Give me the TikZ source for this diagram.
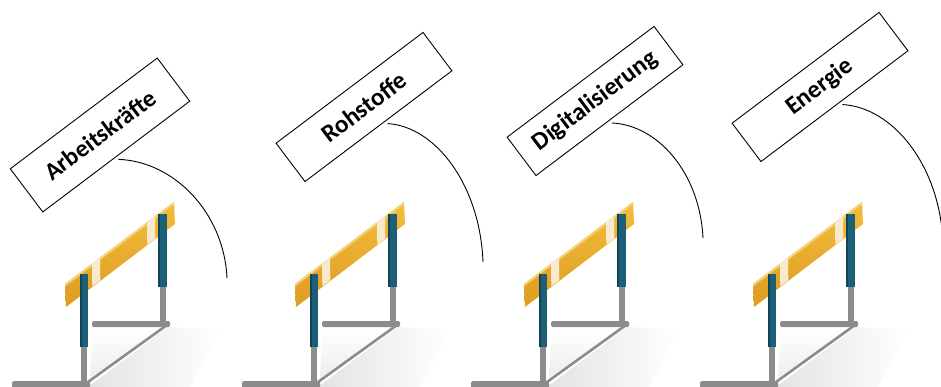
\documentclass[tikz,border=0pt]{standalone}
\usepackage{fontspec}
\setmainfont{Carlito}
\usetikzlibrary{calc}

\definecolor{postteal}{HTML}{1C5F78}
\definecolor{steelgray}{HTML}{8C8C8C}
\definecolor{barlight}{HTML}{F2BE3A}
\definecolor{bardark}{HTML}{DE9C24}
\definecolor{stripecream}{HTML}{F7EAD0}

\tikzset{
  labelbox/.style={draw=black, line width=0.9pt, fill=white, rotate=37,
    minimum width=184pt, minimum height=48pt, inner sep=0pt, outer sep=3.5pt,
    font=\bfseries\fontsize{25}{25}\selectfont},
  bend line/.style={draw=black, line width=0.9pt},
  steel/.style={fill=steelgray},
  brace/.style={draw=steelgray, line width=2.6pt},
  hurdle/.pic={
    % soft ground shadow
    \shade[left color=gray!22, right color=white]
      (88,387) -- (168,327) -- (220,330) -- (190,387) -- cycle;
    \shade[top color=white, bottom color=gray!14]
      (93,327) -- (166,327) -- (90,378) -- cycle;
    % rear foot and diagonal brace
    \fill[steel, rounded corners=1.5pt] (92,321) rectangle (170,327);
    \draw[brace] (88,382) -- (167,325);
    % lower (grey) parts of the posts
    \fill[steel] (159.5,285) rectangle (166,324);
    \fill[steel] (81,345) rectangle (87,387);
    % front foot
    \fill[steel, rounded corners=1.5pt] (12,381) rectangle (90,390);
    % cross bar with its two light bands
    \shade[top color=barlight, bottom color=bardark]
      (65,284) -- (174,202) -- (175,224) -- (66,307) -- cycle;
    \fill[barlight!70!white] (65,284) -- (174,202) -- (174,204.5) -- (65,286.5) -- cycle;
    \fill[stripecream] (92,263.8) -- (100,257.8) -- (100.3,280.3) -- (92.3,286.3) -- cycle;
    \fill[stripecream] (147,222.5) -- (155,216.5) -- (155.3,238.5) -- (147.3,244.5) -- cycle;
    % upper (teal) parts of the posts
    \fill[postteal] (80,274) rectangle (87.5,347);
    \fill[postteal] (158,214) rectangle (167,287);
    \fill[postteal!70!black] (80,274) rectangle (81.5,347);
    \fill[postteal!70!black] (158,214) rectangle (159.5,287);
  }
}

\begin{document}
\begin{tikzpicture}[x=1pt, y=-1pt]
  \useasboundingbox (0,0) rectangle (941,387);
  \clip (0,0) rectangle (941,387);
  \fill[white] (0,0) rectangle (941,387);

  % hurdles
  \pic at (0,0) {hurdle};
  \pic at (230,0) {hurdle};
  \pic at (459,0) {hurdle};
  \pic at (688,0) {hurdle};

  % labels
  \node[labelbox, minimum height=54pt, font=\bfseries\fontsize{24.5}{24.5}\selectfont]
    (b1) at (100,135) {Arbeitskräfte};
  \node[labelbox] (b2) at (364,107) {Rohstoffe};
  \node[labelbox] (b3) at (595,101) {Digitalisierung};
  \node[labelbox] (b4) at (820,87) {Energie};

  % end points of the jump curves
  \coordinate (e1) at (227,278);
  \coordinate (e2) at (483,262);
  \coordinate (e3) at (703,238);
  \coordinate (e4) at (943,243);

  % jump curves
  \draw[bend line] (b1.south) .. controls +(56,2) and +(-3,-65) .. (e1);
  \draw[bend line] (b2.-72)   .. controls +(48,3) and +(-3,-77) .. (e2);
  \draw[bend line] (b3.south) .. controls +(47,2) and +(-3,-64) .. (e3);
  \draw[bend line] (b4.-75)   .. controls +(51,3) and +(-3,-77) .. (e4);
\end{tikzpicture}
\end{document}
